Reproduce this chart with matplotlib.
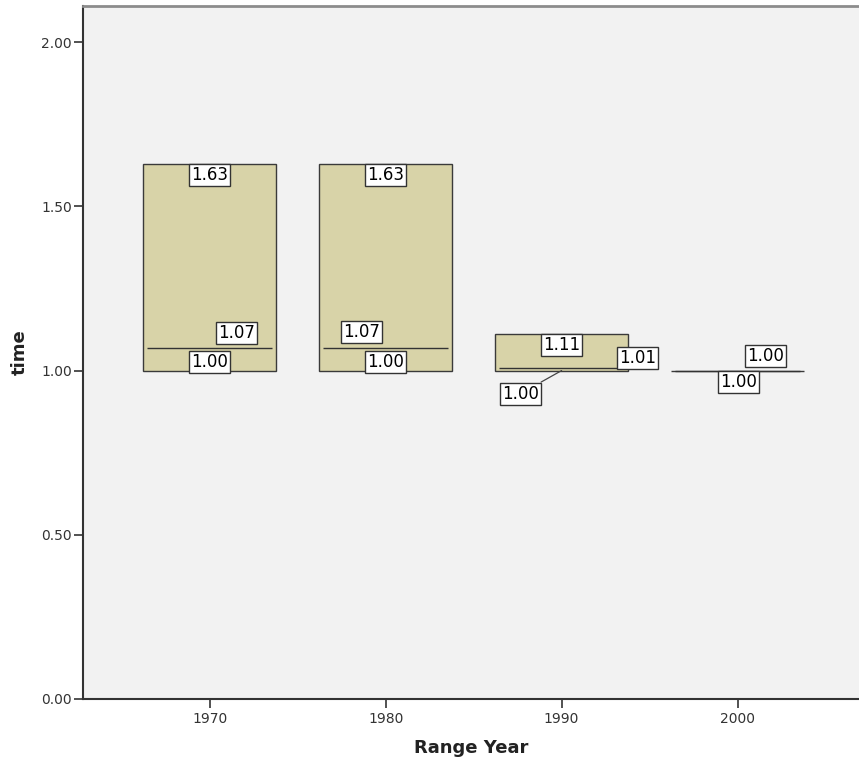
import matplotlib
matplotlib.use("Agg")
import matplotlib.pyplot as plt
import numpy as np

# ---- data ----
years = ["1970", "1980", "1990", "2000"]
high = [1.63, 1.63, 1.11, 1.00]
low = [1.00, 1.00, 1.00, 1.00]
close = [1.07, 1.07, 1.007, 1.00]

# label offsets in pixels (dx, dy) relative to the value point
high_off = [(0, -11), (0, -11), (0, -11), None]
low_off = [(0, 9), (0, 9), (-41, -23), (1, -11)]
close_off = [(27, 15), (-24, 16), (76, 10), (28, 15)]

plt.rcParams['font.family'] = ['DejaVu Sans']

fig = plt.figure(figsize=(8.59, 7.66), dpi=100)
ax = fig.add_axes([83/859, 67/766, 776/859, 693/766])
ax.set_facecolor("#f2f2f2")

x = np.arange(len(years))
hi = np.array(high)
lo = np.array(low)
cl = np.array(close)

box_w = 0.755
ax.bar(x, hi - lo, bottom=lo, width=box_w, color="#d8d3a8",
       edgecolor="#3a3a3a", linewidth=1.0, zorder=2)
line_w = 0.712
ax.hlines(cl, x - line_w/2, x + line_w/2, color="#333333", linewidth=1.0, zorder=3)

bbox = dict(boxstyle="square,pad=0.12", fc="white", ec="#333333", lw=1.0)
fs = 12


def lab(xi, val, off, leader=False):
    kw = {}
    if leader:
        kw["arrowprops"] = dict(arrowstyle="-", color="#444444", lw=0.9,
                                shrinkA=0, shrinkB=0)
    ax.annotate(f"{val:.2f}", xy=(xi, val), xytext=off,
                textcoords="offset pixels", ha="center", va="center",
                fontsize=fs, bbox=bbox, zorder=5, **kw)


for i in range(len(years)):
    if high_off[i] is not None:
        lab(x[i], hi[i], high_off[i])
    lab(x[i], cl[i], close_off[i])
    lab(x[i], lo[i], low_off[i], leader=(i == 2))

ax.set_xlim(-0.72, 3.69)
ax.set_ylim(0, 2.11)
ax.set_xticks(x)
ax.set_xticklabels(years)
ax.set_yticks([0, 0.5, 1.0, 1.5, 2.0])
ax.set_yticklabels([f"{v:.2f}" for v in [0, 0.5, 1.0, 1.5, 2.0]])
ax.tick_params(axis="both", direction="out", length=6.5, width=1.2,
               color="#333333", labelcolor="#333333", labelsize=10)
ax.tick_params(axis="y", pad=1.5)
ax.tick_params(axis="x", pad=3)

for s in ["left", "bottom"]:
    ax.spines[s].set_color("#333333")
    ax.spines[s].set_linewidth(1.5)
ax.spines["top"].set_color("#8c8c8c")
ax.spines["top"].set_linewidth(2)
ax.spines["right"].set_visible(False)

ax.set_xlabel("Range Year", fontsize=13, fontweight="bold", color="#222222", va="center")
ax.set_ylabel("time", fontsize=13, fontweight="bold", color="#222222", va="center")
ax.xaxis.set_label_coords((471 - 83) / 776, (699 - 748) / 693)
ax.yaxis.set_label_coords((20 - 83) / 776, 0.5)

fig.savefig("out.png", dpi=100)
